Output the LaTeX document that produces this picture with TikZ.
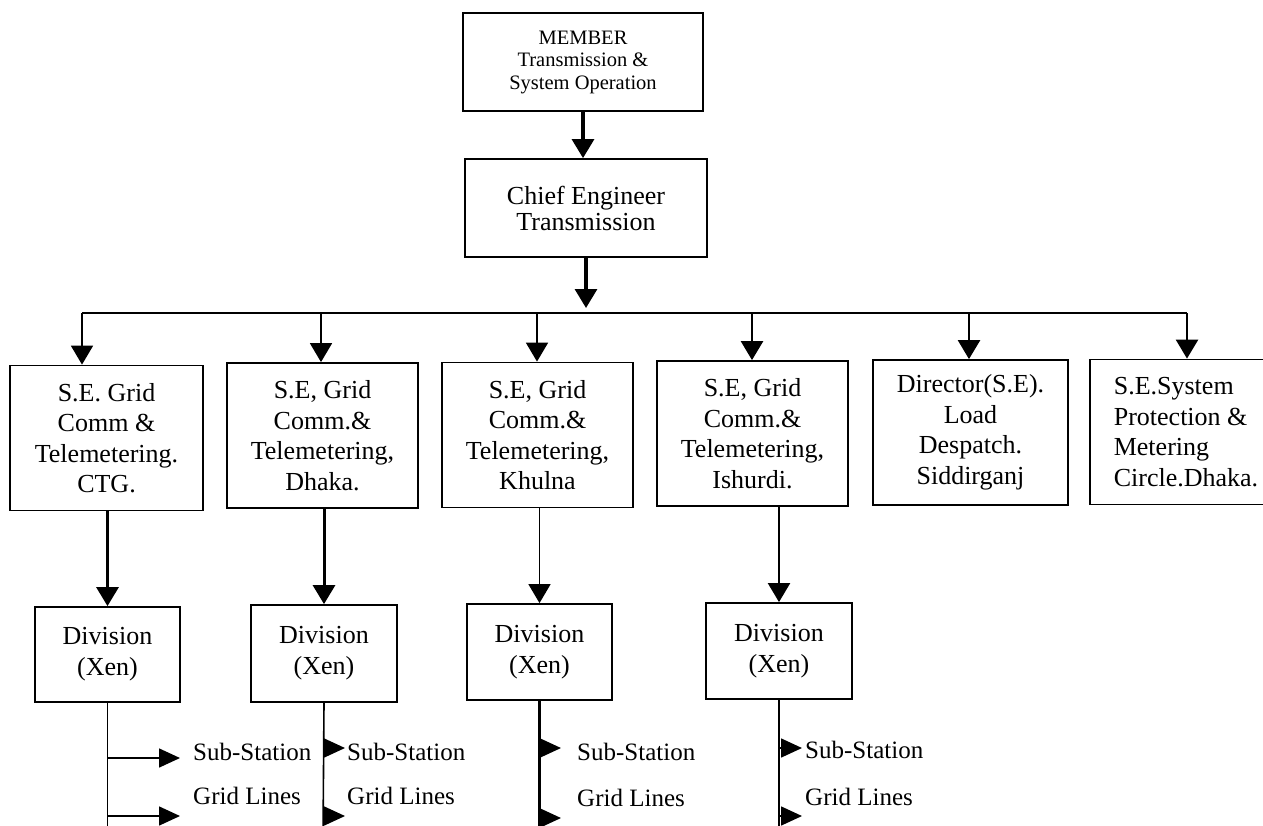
\documentclass[tikz,border=0pt]{standalone}
\usepackage{fontspec}
\setmainfont{Liberation Serif}
\usetikzlibrary{arrows.meta}
\begin{document}
\begin{tikzpicture}[x=1pt,y=-1pt,
  box/.style={draw, line width=1.8pt, inner sep=0pt, align=center},
  headbox/.style={box, minimum width=240, minimum height=98, font=\fontsize{20.5}{22.5}\selectfont},
  chiefbox/.style={box, minimum width=242, minimum height=98, font=\fontsize{26}{26}\selectfont},
  sebox/.style={box, minimum width=192, minimum height=145, font=\fontsize{26}{30.5}\selectfont},
  divbox/.style={box, minimum width=146, minimum height=96, font=\fontsize{26}{31}\selectfont},
  leaf/.style={anchor=base west, inner sep=0pt, font=\fontsize{25}{25}\selectfont},
  bigtip/.style={-{Triangle[length=19pt,width=22pt]}},
  smalltip/.style={-{Triangle[length=21pt,width=19pt]}},
  heavy/.style={line width=3.2pt},
  bus/.style={line width=1.8pt},
  thin/.style={line width=1.6pt},
]
\clip (0,0) rectangle (1263,825);
\fill[white] (0,0) rectangle (1263,825);

% top of the hierarchy
\node[headbox] (member) at (583,62) {MEMBER\\Transmission \&\\System Operation};
\node[chiefbox] (chief) at (586,208) {Chief Engineer\\Transmission};

% circle level
\node[sebox, minimum width=193] (se1) at (106.5,438) {S.E. Grid\\Comm \&\\Telemetering.\\CTG.};
\node[sebox, minimum width=191] (se2) at (322.5,435.5) {S.E, Grid\\Comm.\&\\Telemetering,\\Dhaka.};
\node[sebox, minimum width=191] (se3) at (537.5,435) {S.E, Grid\\Comm.\&\\Telemetering,\\Khulna};
\node[sebox, minimum width=191] (se4) at (752.5,433.5) {S.E, Grid\\Comm.\&\\Telemetering,\\Ishurdi.};
\node[sebox, minimum width=195] (se5) at (970.5,432.5) {Director(S.E).\\Load\\Despatch.\\Siddirganj};
\node[sebox, align=left] (se6) at (1186,432) {S.E.System\\Protection \&\\Metering\\Circle.Dhaka.};

% division level
\node[divbox, minimum width=145, minimum height=95] (div1) at (107.5,654.5) {Division\\(Xen)};
\node[divbox, minimum height=97] (div2) at (324,653.5) {Division\\(Xen)};
\node[divbox, minimum width=145] (div3) at (539.5,652) {Division\\(Xen)};
\node[divbox] (div4) at (779,651) {Division\\(Xen)};

% upper connectors
\draw[heavy, bigtip] (member.south) -- (member.south |- chief.north);
\coordinate (hub) at (586,308);
\draw[heavy, bigtip] (chief.south) -- (hub);

\coordinate (b1) at (82,313);
\coordinate (b2) at (321,313);
\coordinate (b3) at (537,313);
\coordinate (b4) at (752,313);
\coordinate (b5) at (969,313);
\coordinate (b6) at (1187,313);
\draw[bus] (b1) -- (b6);
\draw[line width=1.8pt, bigtip] (b1) -- (b1 |- se1.north);
\draw[line width=1.8pt, bigtip] (b2) -- (b2 |- se2.north);
\draw[line width=1.8pt, bigtip] (b3) -- (b3 |- se3.north);
\draw[line width=2.6pt, bigtip] (b4) -- (b4 |- se4.north);
\draw[line width=2.6pt, bigtip] (b5) -- (b5 |- se5.north);
\draw[line width=2.6pt, bigtip] (b6) -- (b6 |- se6.north);

% circle to division
\draw[line width=3pt, bigtip] (div1.north |- se1.south) -- (div1.north);
\draw[line width=3pt, bigtip] (div2.north |- se2.south) -- (div2.north);
\draw[line width=1.6pt, bigtip] (div3.north |- se3.south) -- (div3.north);
\draw[line width=2.2pt, bigtip] (div4.north |- se4.south) -- (div4.north);

% division 1 outlets
\coordinate (e1) at (107.5,840);
\draw[thin] (div1.south) -- (e1);
\coordinate (s1) at (180,758);
\coordinate (g1) at (180,816);
\draw[thin, smalltip] (div1.south |- s1) -- (s1);
\draw[thin, smalltip] (div1.south |- g1) -- (g1);
\node[leaf] (s1t) at (193,760) {Sub-Station};
\node[leaf] (g1t) at (193,804) {Grid Lines};

% division 2 outlets
\coordinate (e2) at (323,840);
\draw[thin] (div2.south) -- (e2);
\coordinate (s2) at (345,748);
\coordinate (g2) at (345,816);
\draw[thin, smalltip] (div2.south |- s2) -- (s2);
\draw[thin, smalltip] (div2.south |- g2) -- (g2);
\node[leaf] (s2t) at (347,760) {Sub-Station};
\node[leaf] (g2t) at (347,804) {Grid Lines};

% division 3 outlets
\coordinate (e3) at (539.5,840);
\draw[line width=2.8pt] (div3.south) -- (e3);
\coordinate (s3) at (561,748);
\coordinate (g3) at (561,818);
\draw[thin, smalltip] (div3.south |- s3) -- (s3);
\draw[thin, smalltip] (div3.south |- g3) -- (g3);
\node[leaf] (s3t) at (577,760) {Sub-Station};
\node[leaf] (g3t) at (577,806) {Grid Lines};

% division 4 outlets
\coordinate (e4) at (779,840);
\draw[line width=1.8pt] (div4.south) -- (e4);
\coordinate (s4) at (802,748);
\coordinate (g4) at (802,816);
\draw[thin, smalltip] (div4.south |- s4) -- (s4);
\draw[thin, smalltip] (div4.south |- g4) -- (g4);
\node[leaf] (s4t) at (805,758) {Sub-Station};
\node[leaf] (g4t) at (805,805) {Grid Lines};
\end{tikzpicture}
\end{document}
